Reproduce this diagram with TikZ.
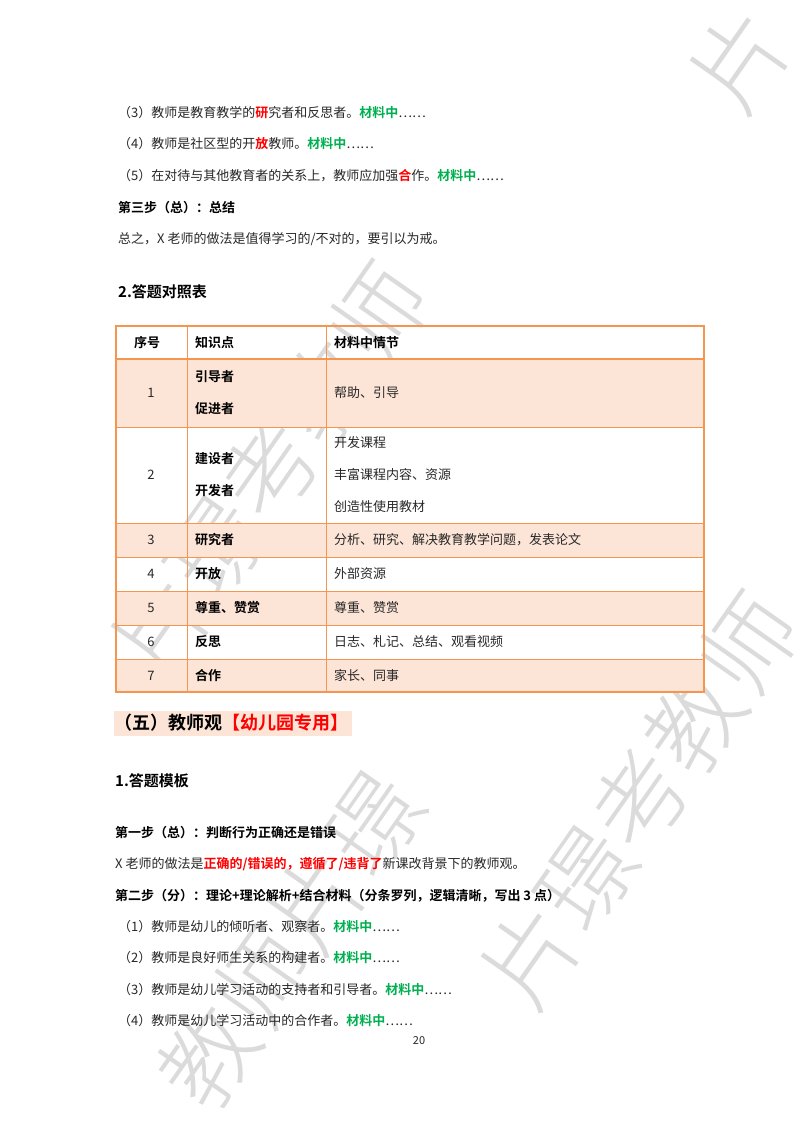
\documentclass[tikz,border=0pt]{standalone}
\usepackage{fontspec}
\setmainfont{Noto Sans CJK SC}
\newfontfamily\cjkb{Noto Sans CJK SC Bold}
\newfontfamily\cjkl{Noto Sans CJK SC Light}
\definecolor{tbor}{RGB}{244,150,80}
\definecolor{tfill}{RGB}{252,228,214}
\definecolor{gr}{RGB}{0,176,80}
\definecolor{rd}{RGB}{255,0,0}
\definecolor{txt}{RGB}{40,40,40}
\begin{document}
\begin{tikzpicture}[x=1pt,y=-1pt,
  body/.style={anchor=west,inner sep=0pt,font=\fontsize{13}{13}\selectfont,text=txt},
  bold/.style={anchor=west,inner sep=0pt,font=\cjkb\fontsize{13}{13}\selectfont,text=black},
  wm/.style={text=black!14,font=\cjkl\fontsize{95}{95}\selectfont,rotate=55,inner sep=0pt}]
\useasboundingbox (0,0) rectangle (800,1132);
\fill[white] (0,0) rectangle (800,1132);
% watermark
\node[wm] (w1) at (270,470) {片璟考教师};
\node[wm] (w2) at (290,940) {教师片璟};
\node[wm] (w3) at (640,800) {片璟考教师};
\node[wm] (w4) at (740,60) {片};
% table fills
\fill[tfill] (116,359) rectangle (704,427);
\fill[tfill] (116,523) rectangle (704,557);
\fill[tfill] (116,591) rectangle (704,625);
\fill[tfill] (116,659) rectangle (704,692);
\draw[tbor,line width=1.2pt] (116,326) rectangle (704,692);
\foreach \y in {427,523,557,591,625,659} \draw[tbor,line width=1pt] (116,\y) -- (704,\y);
\draw[tbor,line width=2pt] (116,359) -- (704,359);
\foreach \x in {187,326} \draw[tbor,line width=1pt] (\x,326) -- (\x,692);
% top lines
\node[body] (l3) at (118,113) {（3）教师是教育教学的{\cjkb\color{rd}研}究者和反思者。{\cjkb\color{gr}材料中}……};
\node[body] (l4) at (118,144) {（4）教师是社区型的开{\cjkb\color{rd}放}教师。{\cjkb\color{gr}材料中}……};
\node[body] (l5) at (118,176) {（5）在对待与其他教育者的关系上，教师应加强{\cjkb\color{rd}合}作。{\cjkb\color{gr}材料中}……};
\node[bold] (s3) at (118,208) {第三步（总）：总结};
\node[body] (sum) at (118,239) {总之，X 老师的做法是值得学习的/不对的，要引以为戒。};
\node[bold,font=\cjkb\fontsize{15}{15}\selectfont] (h2) at (118,292) {2.答题对照表};
% table header
\node[bold] (th1) at (134,343) {序号};
\node[bold] (th2) at (195,343) {知识点};
\node[bold] (th3) at (334,343) {材料中情节};
% rows
\node[body,anchor=center] (n1) at (151,393) {1};
\node[bold] (k1a) at (195,377) {引导者};
\node[bold] (k1b) at (195,409) {促进者};
\node[body] (m1) at (334,393) {帮助、引导};
\node[body,anchor=center] (n2) at (151,475) {2};
\node[bold] (k2a) at (195,459) {建设者};
\node[bold] (k2b) at (195,491) {开发者};
\node[body] (m2a) at (334,443) {开发课程};
\node[body] (m2b) at (334,475) {丰富课程内容、资源};
\node[body] (m2c) at (334,507) {创造性使用教材};
\node[body,anchor=center] (n3) at (151,540) {3};
\node[bold] (k3) at (195,540) {研究者};
\node[body] (m3) at (334,540) {分析、研究、解决教育教学问题，发表论文};
\node[body,anchor=center] (n4) at (151,574) {4};
\node[bold] (k4) at (195,574) {开放};
\node[body] (m4) at (334,574) {外部资源};
\node[body,anchor=center] (n5) at (151,608) {5};
\node[bold] (k5) at (195,608) {尊重、赞赏};
\node[body] (m5) at (334,608) {尊重、赞赏};
\node[body,anchor=center] (n6) at (151,642) {6};
\node[bold] (k6) at (195,642) {反思};
\node[body] (m6) at (334,642) {日志、札记、总结、观看视频};
\node[body,anchor=center] (n7) at (151,676) {7};
\node[bold] (k7) at (195,676) {合作};
\node[body] (m7) at (334,676) {家长、同事};
% section 5
\fill[tfill] (114,711) rectangle (352,736);
\node[bold,font=\cjkb\fontsize{18}{18}\selectfont] (h5) at (114,723) {（五）教师观{\color{rd}【幼儿园专用】}};
\node[bold,font=\cjkb\fontsize{15}{15}\selectfont] (h51) at (115,781) {1.答题模板};
\node[bold] (s1) at (115,833) {第一步（总）：判断行为正确还是错误};
\node[body] (x1) at (115,864) {X 老师的做法是{\cjkb\color{rd}正确的/错误的，遵循了/违背了}新课改背景下的教师观。};
\node[bold] (s2) at (115,896) {第二步（分）：理论+理论解析+结合材料（分条罗列，逻辑清晰，写出 3 点）};
\node[body] (p1) at (118,927) {（1）教师是幼儿的倾听者、观察者。{\cjkb\color{gr}材料中}……};
\node[body] (p2) at (118,958) {（2）教师是良好师生关系的构建者。{\cjkb\color{gr}材料中}……};
\node[body] (p3) at (118,990) {（3）教师是幼儿学习活动的支持者和引导者。{\cjkb\color{gr}材料中}……};
\node[body] (p4) at (118,1021) {（4）教师是幼儿学习活动中的合作者。{\cjkb\color{gr}材料中}……};
\node[body,anchor=center,font=\fontsize{11}{11}\selectfont] (pg) at (419,1041) {20};
\end{tikzpicture}
\end{document}
